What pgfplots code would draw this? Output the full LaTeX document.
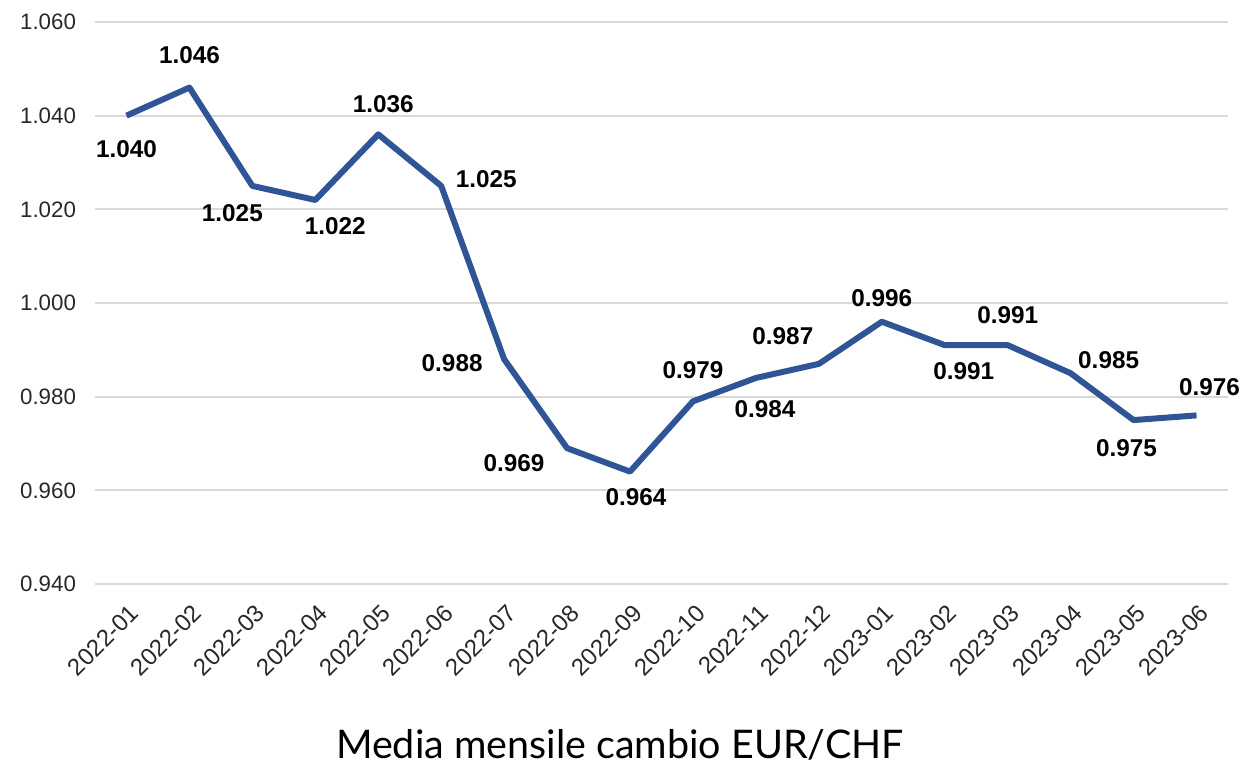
\documentclass[border=0pt]{standalone}
\usepackage{pgfplots}
\pgfplotsset{compat=1.18}
\usepackage{pgfplotstable}
\usepackage{fontspec}
\setmainfont{Liberation Sans}
\newfontfamily\titlefont{Lato}
\definecolor{lineblue}{RGB}{47,85,151}
\definecolor{gridgray}{RGB}{217,217,217}
\definecolor{ticktext}{RGB}{40,40,40}

\pgfplotstableread{
x y dx dy
0 1.040 0 -16.5
1 1.046 0 16
2 1.025 -10 -13.5
3 1.022 10 -13
4 1.036 2.5 15
5 1.025 22.5 3.5
6 0.988 -26 -2
7 0.969 -26.5 -7.5
8 0.964 3 -13
9 0.979 0 15.5
10 0.984 4.5 -15.5
11 0.987 -18 14
12 0.996 0 12
13 0.991 9.5 -13
14 0.991 0 15
15 0.985 19 6.5
16 0.975 -3.5 -14
17 0.976 6.5 14
}\data

\begin{document}
\begin{tikzpicture}
\begin{axis}[
  at={(0,0)}, anchor=south west,
  scale only axis, width=566.5bp, height=281bp,
  xmin=-0.5, xmax=17.5, ymin=0.94, ymax=1.06,
  axis line style={draw=none},
  tick style={draw=none},
  ytick={0.94,0.96,0.98,1.00,1.02,1.04,1.06},
  ymajorgrids, major grid style={gridgray, line width=1bp},
  xtick={0,...,17},
  xticklabels={2022-01,2022-02,2022-03,2022-04,2022-05,2022-06,2022-07,2022-08,2022-09,2022-10,2022-11,2022-12,2023-01,2023-02,2023-03,2023-04,2023-05,2023-06},
  xticklabel style={xshift=4bp, yshift=-12.5bp, rotate=45, anchor=east, inner sep=0pt, font=\fontsize{12}{14}\selectfont, text=ticktext},
  yticklabel style={font=\fontsize{11.2}{13}\selectfont, text=ticktext, xshift=-6bp},
  yticklabel={\pgfmathprintnumber[fixed,fixed zerofill,precision=3]{\tick}},
  /pgf/number format/assume math mode=true,
  clip=false,
]
\addplot[lineblue, line width=3bp, line join=round, mark=none,
  point meta=y,
  visualization depends on={\thisrow{dx} \as \dx},
  visualization depends on={\thisrow{dy} \as \dy},
  nodes near coords={\pgfmathprintnumber[fixed,fixed zerofill,precision=3]{\pgfplotspointmeta}},
  nodes near coords style={anchor=center, xshift=\dx bp, yshift=\dy bp, font=\bfseries\fontsize{12.2}{14}\selectfont, text=black},
] table[x=x,y=y] {\data};
\end{axis}
\node[font=\titlefont\fontsize{19.8}{22}\selectfont] at (262.5bp,-80.5bp) {Media mensile cambio EUR/CHF};
\pgfresetboundingbox
\path[use as bounding box] (-47.5bp,-90bp) rectangle (572.5bp,292bp);
\end{tikzpicture}
\end{document}
